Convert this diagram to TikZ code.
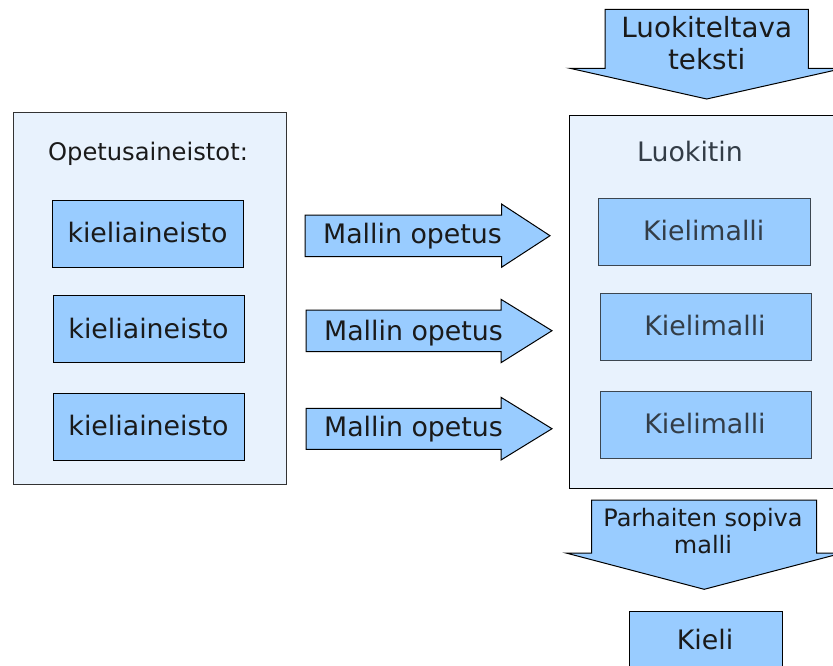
\documentclass[tikz,border=0pt]{standalone}
\usepackage{fontspec}
\setmainfont{DejaVu Sans}
\definecolor{boxfill}{HTML}{99CCFF}
\definecolor{contfill}{HTML}{E8F2FD}
\definecolor{textdark}{HTML}{1A1A1A}
\definecolor{textslate}{HTML}{333D47}
\definecolor{slateline}{HTML}{3C4650}
\begin{document}
\begin{tikzpicture}[x=1pt,y=-1pt,
  cont/.style={draw=black!80, fill=contfill, line width=1pt},
  box/.style={draw=black, fill=boxfill, line width=1pt, inner sep=0pt},
  mbox/.style={draw=slateline, fill=boxfill, line width=1pt, inner sep=0pt},
  arr/.style={draw=black, fill=boxfill, line width=1pt, line join=miter},
  lbl/.style={anchor=base, inner sep=0pt, text=textdark, font=\fontsize{26.8}{31}\selectfont},
  slbl/.style={lbl, text=textslate}]
\useasboundingbox (0,0) rectangle (833,665);
\clip (0,0) rectangle (833,665);
% left container
\node[cont, minimum width=273pt, minimum height=372pt, anchor=north west] (left) at (13,112) {};
\node[lbl, font=\fontsize{24.2}{29}\selectfont] (ltitle) at (148,160) {Opetusaineistot:};
\node[box, minimum width=191pt, minimum height=67pt, anchor=north west] (k1) at (52,200) {};
\node[box, minimum width=191pt, minimum height=67pt, anchor=north west] (k2) at (53,295) {};
\node[box, minimum width=191pt, minimum height=67pt, anchor=north west] (k3) at (53,393) {};
\node[lbl] (k1t) at (147.5,242.7) {kieliaineisto};
\node[lbl] (k2t) at (148.5,338.3) {kieliaineisto};
\node[lbl] (k3t) at (148.5,435) {kieliaineisto};
% training arrows
\draw[arr] (305,215) -- (501.5,215) -- (501.5,204) -- (550,235.7) -- (501.5,267.3) -- (501.5,256.7) -- (305,256.7) -- cycle;
\draw[arr] (306,310) -- (501,310) -- (501,299.3) -- (552,330.7) -- (501,362.7) -- (501,351.7) -- (306,351.7) -- cycle;
\draw[arr] (306,408.3) -- (501,408.3) -- (501,397.3) -- (552,428.7) -- (501,460) -- (501,449.3) -- (306,449.3) -- cycle;
\node[lbl] (a1t) at (412.5,243.3) {Mallin opetus};
\node[lbl] (a2t) at (413.5,340) {Mallin opetus};
\node[lbl] (a3t) at (413.5,436.7) {Mallin opetus};
% right container
\node[cont, draw=black, minimum width=276pt, minimum height=373.3pt, anchor=north west] (right) at (569.3,115) {};
\node[slbl] (rtitle) at (690,161.7) {Luokitin};
\node[mbox, minimum width=211.7pt, minimum height=67.3pt, anchor=north west] (m1) at (598.3,197.7) {};
\node[mbox, minimum width=211.7pt, minimum height=67.3pt, anchor=north west] (m2) at (599.7,292.7) {};
\node[mbox, minimum width=211.7pt, minimum height=67.3pt, anchor=north west] (m3) at (599.7,390.7) {};
\node[slbl] (m1t) at (703.7,240) {Kielimalli};
\node[slbl] (m2t) at (705,335) {Kielimalli};
\node[slbl] (m3t) at (705,433.3) {Kielimalli};
% input arrow
\draw[arr] (605,9.3) -- (808.3,9.3) -- (808.3,68.3) -- (843.4,68.3) -- (706.7,99) -- (570,68.3) -- (605,68.3) -- cycle;
\node[lbl, font=\fontsize{27.8}{32}\selectfont] (int1) at (706.7,37) {Luokiteltava};
\node[lbl, font=\fontsize{27.8}{32}\selectfont] (int2) at (706.7,69) {teksti};
% output arrow
\draw[arr] (591.7,500) -- (816.7,500) -- (816.7,553) -- (842.4,553) -- (704.2,589.3) -- (566,553) -- (591.7,553) -- cycle;
\node[lbl, font=\fontsize{24}{28}\selectfont] (outt1) at (703,526) {Parhaiten sopiva};
\node[lbl, font=\fontsize{24}{28}\selectfont] (outt2) at (703,553) {malli};
% result
\node[box, minimum width=152.7pt, minimum height=70pt, anchor=north west] (kieli) at (629,610.7) {};
\node[lbl] (kielit) at (705,649.3) {Kieli};
\end{tikzpicture}
\end{document}
